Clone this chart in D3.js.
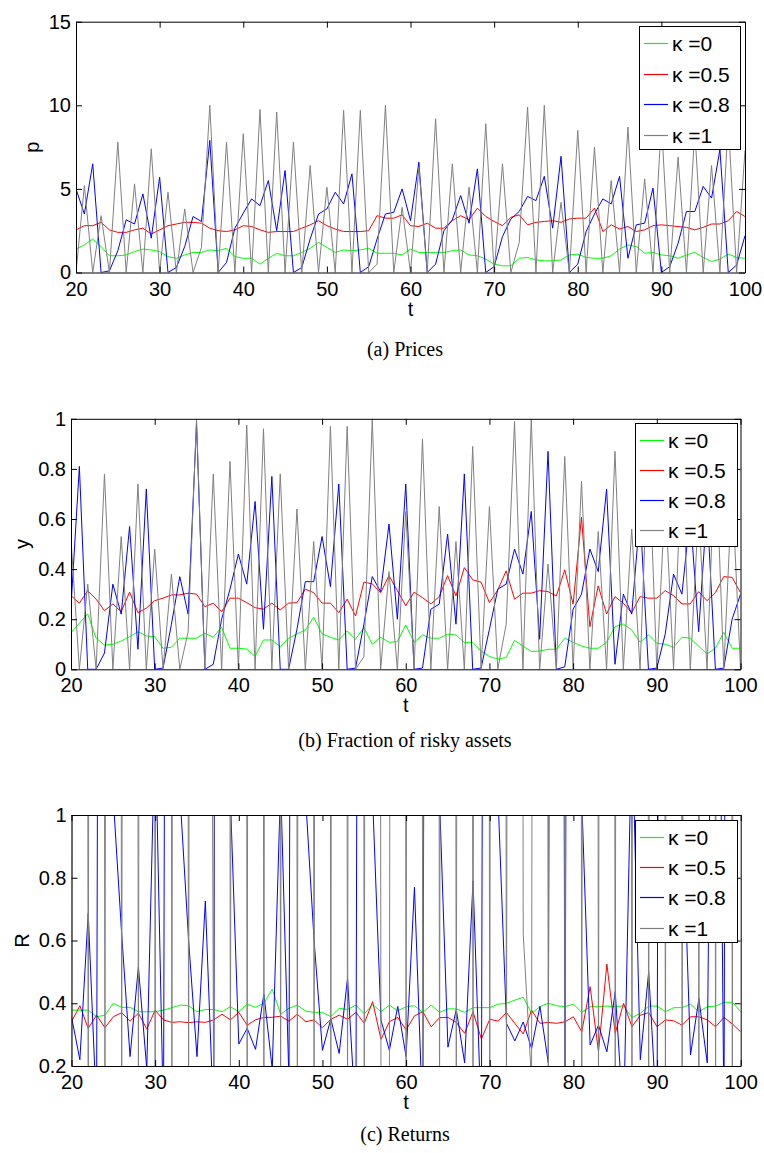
<!DOCTYPE html>
<html><head><meta charset="utf-8">
<script src="https://cdn.jsdelivr.net/npm/d3@7"></script>
<style>
body{margin:0;background:#fff}
.ax text{font-family:"Liberation Sans",Arial,sans-serif;font-size:20px;fill:#000}
.ax .domain,.ax .tick line{stroke:#000;stroke-width:1}
.lbl{font-family:"Liberation Sans",Arial,sans-serif;font-size:20px;fill:#000}
.legtxt{font-family:"Liberation Sans",Arial,sans-serif;font-size:21px;fill:#000}
.cap{font-family:"Liberation Serif","Times New Roman",serif;font-size:20px;fill:#000}
</style>
</head><body>
<svg id="chart" width="764" height="1153"></svg>
<script>
// ---------- data ----------
const tValues = d3.range(20, 101);
const xTickValues = [20,30,40,50,60,70,80,90,100];
const seriesNames = ["κ =0","κ =0.5","κ =0.8","κ =1"];
const seriesColors = ["#00ff00","#ff0000","#0000ff","#808080"];

// (a) Prices
const priceTicks = [0,5,10,15];
const priceTickLabels = ["0","5","10","15"];
const priceK0 = [1.4,1.65,2.0,1.55,1.0,1.0,1.05,1.25,1.4,1.35,
 1.25,0.95,0.85,1.05,1.2,1.2,1.35,1.3,1.45,0.95,
 0.85,0.85,0.5,0.85,1.15,1.0,1.0,1.2,1.45,1.8,
 1.5,1.2,1.35,1.3,1.35,1.45,1.15,1.15,1.15,1.05,
 1.4,1.2,1.2,1.2,1.2,1.3,1.35,1.05,1.0,0.8,
 0.5,0.4,0.4,0.85,0.9,0.75,0.7,0.7,0.75,1.05,
 1.1,0.9,0.85,0.85,1.0,1.4,1.65,1.55,1.15,1.2,
 1.05,1.0,0.85,1.05,1.2,0.9,0.65,0.8,1.1,0.9,
 0.85];
const priceK05 = [2.55,2.8,2.8,3.0,2.55,2.4,2.4,2.55,2.65,2.3,
 2.55,2.8,2.9,3.0,3.0,2.95,2.65,2.5,2.45,2.55,
 2.8,2.75,2.55,2.4,2.45,2.45,2.45,2.65,2.85,3.1,
 2.8,2.6,2.45,2.45,2.45,2.5,3.4,3.25,3.25,3.45,
 2.8,2.75,2.95,2.65,2.65,3.1,3.4,3.15,3.85,3.35,
 3.05,2.8,3.3,3.45,2.85,3.0,3.05,3.1,3.0,3.2,
 3.25,3.25,3.85,2.45,2.85,2.6,2.75,2.45,2.55,2.8,
 2.85,2.8,2.75,2.7,2.55,2.7,2.9,2.9,3.1,3.65,
 3.35];
const priceK08 = [5.0,3.5,6.5,0,0.1,1.3,3.15,2.9,4.7,2.05,
 5.7,0,0.3,1.55,3.35,3.05,7.9,0,0.6,2.65,
 3.55,4.4,4.0,5.5,2.5,6.1,0,0.3,2.0,3.5,
 3.8,4.8,4.1,5.9,0,0.35,2.0,3.5,3.6,5.0,
 3.1,6.6,0,0.5,2.5,3.15,4.6,2.95,6.2,0,
 0.35,2.15,3.2,3.65,4.55,4.3,5.75,2.65,6.95,0,
 0.5,2.45,3.5,4.4,4.1,5.75,0.85,2.85,2.95,5.05,
 0,0.35,1.75,3.65,3.65,5.15,4.45,7.35,0,0.45,
 2.2];
const priceK1 = [0,5.2,0,3.4,0,7.8,0,5.3,0,7.4,
 0,4.8,0,3.8,0,1.5,10,0,7.8,0,
 8.3,0,9.75,0,9.6,0,7.8,0,6.4,0,
 5.1,0,9.7,0,9.7,0,0.5,10,0,3.9,
 0,6.3,0,9.2,0,6.5,0,5.1,0,8.9,
 0,6.5,0,1.8,9.9,0,10,0,4.2,0,
 8.5,0,7.5,0,5.5,0,8.7,0,5.6,0,
 9.0,0,6.9,0,8.5,0,6.4,0,9.0,0,
 7.3];

// (b) Fraction of risky assets
const fracTicks = [0,0.2,0.4,0.6,0.8,1];
const fracTickLabels = ["0","0.2","0.4","0.6","0.8","1"];
const fracK0 = [0.146,0.184,0.221,0.124,0.097,0.1,0.113,0.13,0.15,0.133,
 0.13,0.084,0.088,0.124,0.124,0.124,0.144,0.128,0.168,0.084,
 0.084,0.081,0.051,0.117,0.117,0.09,0.124,0.141,0.157,0.208,
 0.141,0.128,0.117,0.153,0.12,0.166,0.1,0.128,0.108,0.11,
 0.177,0.108,0.137,0.124,0.124,0.14,0.137,0.107,0.108,0.073,
 0.051,0.041,0.047,0.115,0.093,0.071,0.073,0.08,0.08,0.124,
 0.108,0.093,0.084,0.084,0.108,0.17,0.181,0.157,0.108,0.137,
 0.104,0.1,0.088,0.128,0.124,0.093,0.061,0.084,0.148,0.084,
 0.084];
const fracK05 = [0.294,0.264,0.314,0.28,0.234,0.261,0.23,0.308,0.226,0.244,
 0.274,0.284,0.297,0.297,0.304,0.3,0.25,0.264,0.23,0.284,
 0.284,0.266,0.246,0.24,0.264,0.237,0.264,0.266,0.32,0.306,
 0.264,0.264,0.226,0.28,0.213,0.348,0.341,0.306,0.374,0.314,
 0.254,0.308,0.286,0.261,0.29,0.374,0.293,0.406,0.357,0.348,
 0.266,0.317,0.393,0.28,0.304,0.304,0.314,0.31,0.293,0.397,
 0.26,0.607,0.17,0.333,0.221,0.29,0.264,0.226,0.29,0.284,
 0.284,0.314,0.294,0.261,0.261,0.31,0.274,0.306,0.37,0.367,
 0.306];
const fracK08 = [0.25,0.81,0,0,0.065,0.34,0.22,0.57,0.08,0.72,
 0,0.005,0.18,0.37,0.22,0.98,0,0.02,0.2,0.32,
 0.46,0.34,0.67,0.16,0.77,0,0,0.16,0.35,0.35,
 0.53,0.33,0.74,0,0.005,0.18,0.37,0.31,0.58,0.2,
 0.74,0,0.005,0.24,0.26,0.54,0.18,0.78,0,0.005,
 0.16,0.32,0.34,0.48,0.38,0.63,0.12,0.87,0,0.01,
 0.24,0.3,0.48,0.39,0.72,0.02,0.3,0.22,0.62,0,
 0.005,0.14,0.38,0.3,0.62,0.15,0.65,0,0.005,0.2,
 0.3];
const fracK1 = [0.52,0,0.34,0,0.78,0,0.53,0,0.74,0,
 0.48,0,0.38,0,0.15,1.0,0,0.78,0,0.83,
 0,0.975,0,0.96,0,0.78,0,0.64,0,0.51,
 0,0.97,0,0.97,0,0.05,1.0,0,0.39,0,
 0.63,0,0.92,0,0.65,0,0.51,0,0.89,0,
 0.65,0,0.18,0.99,0,1.0,0,0.42,0,0.85,
 0,0.75,0,0.55,0,0.87,0,0.56,0,0.9,
 0,0.69,0,0.85,0,0.64,0,0.9,0,0.73,
 0];

// (c) Returns
const retTicks = [0.2,0.4,0.6,0.8,1];
const retTickLabels = ["0.2","0.4","0.6","0.8","1"];
const retK0 = [0.378,0.378,0.378,0.357,0.362,0.4,0.387,0.387,0.373,0.373,
 0.373,0.378,0.386,0.394,0.392,0.373,0.38,0.38,0.373,0.389,
 0.373,0.397,0.387,0.4,0.445,0.365,0.384,0.394,0.375,0.371,
 0.371,0.357,0.384,0.38,0.394,0.366,0.396,0.373,0.394,0.376,
 0.389,0.392,0.371,0.394,0.371,0.382,0.382,0.371,0.386,0.386,
 0.386,0.397,0.4,0.41,0.419,0.368,0.389,0.4,0.392,0.389,
 0.397,0.371,0.389,0.389,0.391,0.389,0.392,0.354,0.368,0.391,
 0.391,0.373,0.386,0.386,0.397,0.373,0.389,0.391,0.403,0.403,
 0.373];
const retK05 = [0.341,0.392,0.32,0.362,0.322,0.357,0.37,0.343,0.368,0.318,
 0.378,0.347,0.339,0.341,0.338,0.341,0.339,0.347,0.365,0.347,
 0.371,0.33,0.347,0.355,0.355,0.359,0.343,0.365,0.341,0.347,
 0.322,0.349,0.362,0.349,0.371,0.336,0.405,0.285,0.341,0.355,
 0.315,0.36,0.373,0.325,0.354,0.355,0.339,0.304,0.373,0.286,
 0.349,0.343,0.37,0.336,0.302,0.378,0.336,0.339,0.336,0.341,
 0.357,0.309,0.453,0.246,0.525,0.304,0.4,0.325,0.362,0.37,
 0.325,0.347,0.344,0.33,0.357,0.357,0.347,0.325,0.355,0.334,
 0.309];
const retK08 = [0.357,0.22,0.686,0.05,10,1.05,0.62,0.23,0.516,0.19,
 1.3,0.02,10,1.05,0.6,0.23,0.726,0.02,10,1.05,
 0.27,0.32,0.253,0.43,0.19,1.1,0.15,10,1.05,0.6,
 0.25,0.35,0.24,0.48,0.02,10,1.05,0.346,0.25,0.39,
 0.23,0.77,0.02,10,1.05,0.26,0.38,0.21,0.79,0.02,
 10,1.05,0.336,0.28,0.34,0.256,0.39,0.21,10,0.02,
 10,1.05,0.267,0.33,0.245,0.437,0.02,1.3,0.22,0.5,
 0.02,10,4,1.05,0.235,0.415,0.21,3,0.02,10,
 1.2];
const retK1 = [0.05,20,0.05,20,0.05,20,0.05,20,0.05,20,
 0.05,20,0.05,20,0.05,20,7,0.05,20,0.05,
 20,0.05,20,0.05,20,0.05,20,0.05,20,0.05,
 20,0.05,20,0.05,20,0.05,20,0.1,0.05,20,
 0.05,20,0.05,20,0.05,20,0.05,20,0.05,20,
 0.05,20,0.05,20,0.62,0.15,20,0.05,20,0.05,
 20,0.05,20,0.05,20,0.05,20,0.05,20,0.05,
 20,0.05,20,0.05,20,0.05,20,0.05,20,0.05,
 20];

// ---------- drawing ----------
const svg = d3.select("#chart");

function panel(cfg, idx){
  const {L,R,T,B} = cfg;
  const x = d3.scaleLinear().domain([20,100]).range([L,R]);
  const y = d3.scaleLinear().domain(cfg.yDomain).range([B,T]);
  const g = svg.append("g");
  const clipId = "clip"+idx;
  g.append("clipPath").attr("id",clipId).append("rect")
    .attr("x",L).attr("y",T).attr("width",R-L).attr("height",B-T);
  const line = d3.line().x((d,i)=>x(tValues[i])).y(d=>y(d));
  const lg = g.append("g").attr("clip-path",`url(#${clipId})`);
  cfg.series.forEach((s,i)=>{
    lg.append("path").attr("d",line(s)).attr("fill","none")
      .attr("stroke",seriesColors[i]).attr("stroke-width",1)
      .attr("stroke-linejoin","miter");
  });
  const fmtY = d => cfg.yLabels[cfg.yTicks.indexOf(d)];
  g.append("g").attr("class","ax").attr("transform",`translate(0,${B})`)
    .call(d3.axisBottom(x).tickValues(xTickValues).tickSize(-6).tickSizeOuter(0).tickPadding(9).tickFormat(d=>String(d)))
    .attr("font-size",null).attr("font-family",null);
  g.append("g").attr("class","ax").attr("transform",`translate(0,${T})`)
    .call(d3.axisTop(x).tickValues(xTickValues).tickSize(-6).tickSizeOuter(0).tickFormat(""));
  g.append("g").attr("class","ax").attr("transform",`translate(${L},0)`)
    .call(d3.axisLeft(y).tickValues(cfg.yTicks).tickSize(-6).tickSizeOuter(0).tickPadding(5).tickFormat(fmtY))
    .attr("font-size",null).attr("font-family",null);
  g.append("g").attr("class","ax").attr("transform",`translate(${R},0)`)
    .call(d3.axisRight(y).tickValues(cfg.yTicks).tickSize(-6).tickSizeOuter(0).tickFormat(""));
  // axis labels
  g.append("text").attr("class","lbl").attr("x",(L+R)/2).attr("y",B+43)
    .attr("text-anchor","middle").text("t");
  g.append("text").attr("class","lbl")
    .attr("transform",`translate(${cfg.yLabelX},${(T+B)/2}) rotate(-90)`)
    .attr("text-anchor","middle").text(cfg.yName);
  // caption
  g.append("text").attr("class","cap").attr("x",405).attr("y",cfg.capY)
    .attr("text-anchor","middle").text(cfg.caption);
  // legend
  const lb = cfg.legend;
  const leg = g.append("g");
  leg.append("rect").attr("x",lb.x+0.5).attr("y",lb.y+0.5).attr("width",lb.w).attr("height",lb.h)
    .attr("fill","#fff").attr("stroke","#000").attr("stroke-width",1);
  seriesNames.forEach((n,i)=>{
    const yy = Math.round(lb.y + lb.first + i*lb.step) + 0.5;
    leg.append("line").attr("x1",lb.x+5).attr("x2",lb.x+29).attr("y1",yy).attr("y2",yy)
      .attr("stroke",seriesColors[i]).attr("stroke-width",1.2);
    leg.append("text").attr("class","legtxt").attr("x",lb.x+33).attr("y",yy)
      .attr("dy","0.35em").text(n);
  });
}

panel({L:76,R:745,T:21.7,B:272.5,yDomain:[0,15],yTicks:priceTicks,yLabels:priceTickLabels,
  series:[priceK0,priceK05,priceK08,priceK1],yName:"p",yLabelX:39,
  caption:"(a) Prices",capY:356,
  legend:{x:639,y:26,w:101,h:123,first:17,step:30.5}},0);
panel({L:71,R:740.5,T:418.8,B:669.3,yDomain:[0,1],yTicks:fracTicks,yLabels:fracTickLabels,
  series:[fracK0,fracK05,fracK08,fracK1],yName:"y",yLabelX:29,
  caption:"(b) Fraction of risky assets",capY:747,
  legend:{x:635,y:423,w:102,h:123,first:17,step:30}},1);
panel({L:71.5,R:740.7,T:815,B:1066,yDomain:[0.2,1],yTicks:retTicks,yLabels:retTickLabels,
  series:[retK0,retK05,retK08,retK1],yName:"R",yLabelX:29,
  caption:"(c) Returns",capY:1141,
  legend:{x:635,y:820,w:102,h:122,first:17,step:30.2}},2);
</script>
</body></html>
